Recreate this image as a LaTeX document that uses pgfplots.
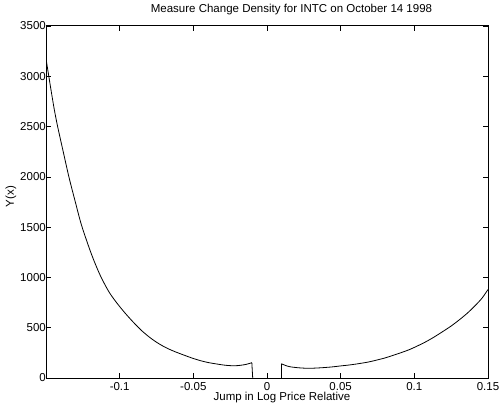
\documentclass[border=0pt]{standalone}
\usepackage{fontspec}
\setmainfont{Liberation Sans}
\usepackage{pgfplots}
\pgfplotsset{compat=1.18}
\begin{document}
\fontsize{11.5bp}{13bp}\selectfont
\begin{tikzpicture}
\begin{axis}[
  at={(0,0)}, anchor=south west,
  scale only axis, width=442bp, height=352bp,
  xmin=-0.15, xmax=0.15, ymin=0, ymax=3500,
  xtick={-0.1,-0.05,0,0.05,0.1,0.15},
  ytick={0,500,1000,1500,2000,2500,3000,3500},
  tick align=inside, tick pos=both, major tick length=5bp,
  axis line style={line width=1bp},
  every tick/.style={black, line width=0.6bp},
  /pgf/number format/assume math mode=true,
  /pgf/number format/1000 sep={},
  /pgf/number format/fixed,
  tick label style={font=\fontsize{11.5bp}{13bp}\selectfont},
  xticklabel style={anchor=base, yshift=-12bp, inner sep=0pt},
  yticklabel style={anchor=east, inner sep=0pt},
  title={Measure Change Density for INTC on October 14 1998},
  title style={at={(0.5554,1.0213)}, anchor=base, inner sep=0pt, font=\fontsize{11.5bp}{13bp}\selectfont},
  xlabel={Jump in Log Price Relative},
  xlabel style={at={(0.534,-0.0653)}, anchor=base, inner sep=0pt, font=\fontsize{11.5bp}{13bp}\selectfont},
  ylabel={Y(x)},
  ylabel style={at={(-0.0724,0.5156)}, anchor=base, inner sep=0pt, font=\fontsize{11.5bp}{13bp}\selectfont},
]
\addplot[black, line width=0.8bp, smooth, tension=0.5] coordinates {
(-0.150,3175) (-0.147,2900) (-0.1445,2680) (-0.1421,2500) (-0.1380,2230)
(-0.1343,1990) (-0.1300,1745) (-0.1259,1520) (-0.1200,1265) (-0.1160,1115)
(-0.1122,990) (-0.1070,850) (-0.1016,740) (-0.0960,640) (-0.0903,548)
(-0.0850,470) (-0.0791,398) (-0.0735,342) (-0.0678,296) (-0.0620,259)
(-0.0566,229) (-0.0510,199) (-0.0453,173) (-0.0400,154) (-0.0340,139)
(-0.0290,128) (-0.0250,123) (-0.0215,122) (-0.0182,126) (-0.0140,136)
(-0.0103,152)
};
\addplot[black, line width=0.8bp] coordinates {(-0.0103,152) (-0.0097,0)};
\addplot[black, line width=0.8bp] coordinates {(0.0097,0) (0.0097,142)};
\addplot[black, line width=0.8bp, smooth, tension=0.5] coordinates {
(0.0097,142) (0.0125,125) (0.0155,112) (0.0210,102) (0.0268,97)
(0.0320,98) (0.0380,103) (0.0440,110) (0.0493,119) (0.0550,128) (0.0606,139)
(0.0685,158) (0.0741,177) (0.0800,199) (0.0853,224) (0.0910,252) (0.0966,282)
(0.1020,318) (0.1079,361) (0.1135,408) (0.1191,460) (0.1250,517) (0.1304,577)
(0.1360,645) (0.1417,726) (0.1460,795) (0.1500,880)
};
\end{axis}
\pgfresetboundingbox
\path[use as bounding box] (-46bp,-30bp) rectangle (453bp,378bp);
\end{tikzpicture}
\end{document}
